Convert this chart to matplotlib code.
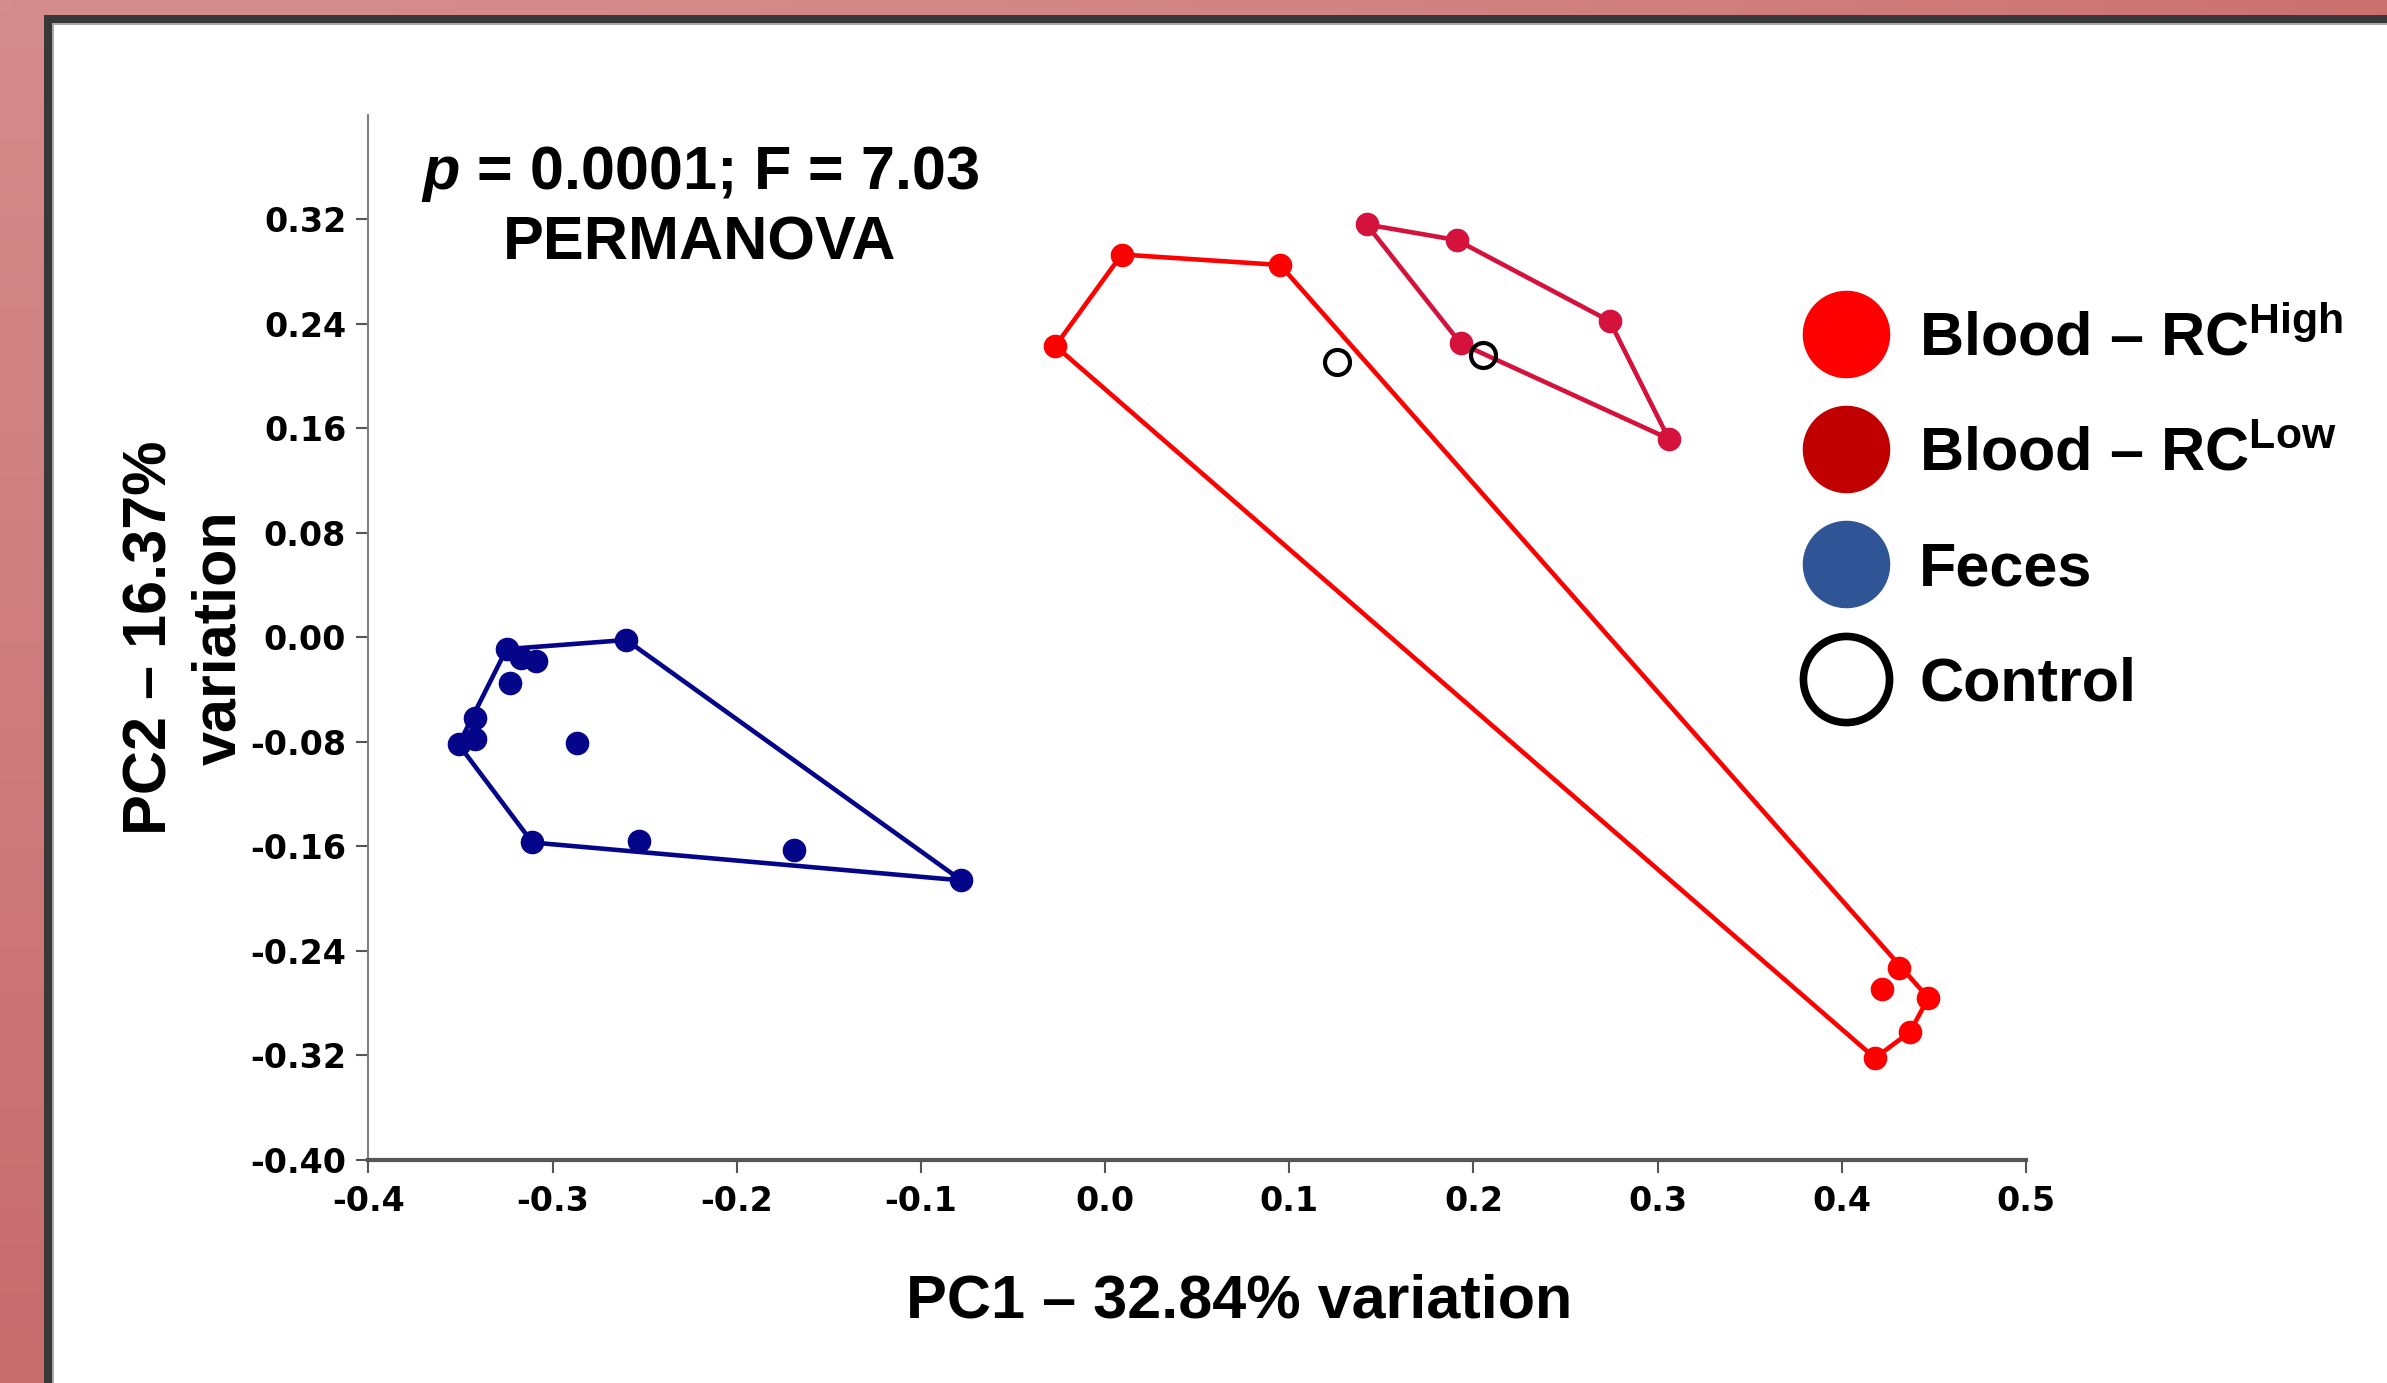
import numpy as np
import matplotlib.pyplot as plt
from matplotlib.lines import Line2D
from matplotlib.patches import Rectangle

plt.rcParams['font.family'] = ['Liberation Sans', 'DejaVu Sans']
plt.rcParams['font.weight'] = 'bold'
plt.rcParams['mathtext.fontset'] = 'custom'
plt.rcParams['mathtext.rm'] = 'Liberation Sans:bold'
plt.rcParams['mathtext.it'] = 'Liberation Sans:bold:italic'
plt.rcParams['mathtext.bf'] = 'Liberation Sans:bold'

# PCoA scores (PC1, PC2)
high_x = [-0.027, 0.009, 0.095, 0.431, 0.447, 0.437, 0.418, 0.422]
high_y = [0.223, 0.293, 0.285, -0.253, -0.276, -0.302, -0.322, -0.269]
low_x = [0.142, 0.191, 0.274, 0.306, 0.193]
low_y = [0.316, 0.304, 0.242, 0.152, 0.225]
feces_x = [-0.325, -0.317, -0.309, -0.323, -0.342, -0.342, -0.351, -0.287,
           -0.260, -0.311, -0.253, -0.169, -0.078]
feces_y = [-0.009, -0.016, -0.018, -0.035, -0.062, -0.078, -0.082, -0.081,
           -0.002, -0.157, -0.156, -0.163, -0.186]
control_x = [0.126, 0.205]
control_y = [0.211, 0.216]

x_ticks = [-0.4, -0.3, -0.2, -0.1, 0.0, 0.1, 0.2, 0.3, 0.4, 0.5]
y_ticks = [-0.40, -0.32, -0.24, -0.16, -0.08, 0.00, 0.08, 0.16, 0.24, 0.32]

legend_labels = ['Blood – RC$^{\\mathrm{High}}$', 'Blood – RC$^{\\mathrm{Low}}$',
                 'Feces', 'Control']
stats_text = '$\\mathit{p}$ = 0.0001; F = 7.03\nPERMANOVA'


def hull(xs, ys):
    # monotone chain convex hull, returned as a closed ring
    pts = sorted(zip(xs, ys))

    def half(points):
        out = []
        for p in points:
            while len(out) >= 2 and ((out[-1][0] - out[-2][0]) * (p[1] - out[-2][1])
                                     - (out[-1][1] - out[-2][1]) * (p[0] - out[-2][0])) <= 0:
                out.pop()
            out.append(p)
        return out

    ring = half(pts)[:-1] + half(pts[::-1])[:-1]
    ring.append(ring[0])
    return [p[0] for p in ring], [p[1] for p in ring]


W, H = 2387, 1383
fig = plt.figure(figsize=(W / 100, H / 100), dpi=100)

# pink slide background with a dark frame
bg = fig.add_axes([0, 0, 1, 1], zorder=-10)
gx, gy = np.meshgrid(np.linspace(0, 1, 240), np.linspace(0, 1, 140))
gx = (gx ** 2)[..., None]
gy = gy[..., None]
tl = np.array([213, 140, 140])
tr = np.array([204, 112, 112])
bl = np.array([200, 108, 110])
br = np.array([195, 100, 102])
img = (tl * (1 - gx) * (1 - gy) + tr * gx * (1 - gy) + bl * (1 - gx) * gy + br * gx * gy) / 255
bg.imshow(img, aspect='auto', extent=[0, 1, 0, 1])
bg.axis('off')
fig.add_artist(Rectangle((44 / W, -0.1), 1.2, 1.1 - 15 / H, transform=fig.transFigure,
                         facecolor='#383838', edgecolor='none', zorder=-5))
fig.add_artist(Rectangle((52 / W, -0.1), 1.2, 1.1 - 23 / H, transform=fig.transFigure,
                         facecolor='#a8a8a8', edgecolor='none', zorder=-4))
fig.add_artist(Rectangle((54 / W, -0.1), 1.2, 1.1 - 25 / H, transform=fig.transFigure,
                         facecolor='white', edgecolor='none', zorder=-3))

ax = fig.add_axes([368.4 / W, (H - 1160) / H, 1657.6 / W, 1045.3 / H])
ax.patch.set_alpha(0)

hx, hy = hull(high_x, high_y)
ax.plot(hx, hy, color='#ff0000', lw=3.3, zorder=2)
ax.plot(high_x, high_y, 'o', color='#ff0000', ms=16, zorder=3)

lx, ly = hull(low_x, low_y)
ax.plot(lx, ly, color='#d4123c', lw=3.3, zorder=2)
ax.plot(low_x, low_y, 'o', color='#d4123c', ms=16, zorder=3)

fx, fy = hull(feces_x, feces_y)
ax.plot(fx, fy, color='#05058a', lw=3.3, zorder=2)
ax.plot(feces_x, feces_y, 'o', color='#05058a', ms=16, zorder=3)

ax.plot(control_x, control_y, 'o', mfc='none', mec='black', mew=3, ms=18, zorder=4)

ax.set_xlim(-0.4, 0.5)
ax.set_ylim(-0.40, 0.40)
ax.spines['top'].set_visible(False)
ax.spines['right'].set_visible(False)
ax.spines['left'].set_color('#7f7f7f')
ax.spines['left'].set_linewidth(1.5)
ax.spines['bottom'].set_color('#555555')
ax.spines['bottom'].set_linewidth(3)

ax.set_xticks(x_ticks, labels=[f'{v:.1f}' for v in x_ticks],
              fontfamily='DejaVu Sans', fontweight='bold', fontsize=24)
ax.set_yticks(y_ticks, labels=[f'{v:.2f}' for v in y_ticks],
              fontfamily='DejaVu Sans', fontweight='bold', fontsize=24)
ax.tick_params(axis='both', direction='out', length=9, width=1.5, color='#555555')
ax.tick_params(axis='x', pad=9)
ax.tick_params(axis='y', pad=7)

ax.set_xlabel('PC1 – 32.84% variation', fontsize=44, fontweight='bold')
ax.xaxis.set_label_coords((1239 - 368.4) / 1657.6, (1160 - 1318) / 1045.3)
ax.xaxis.label.set_verticalalignment('baseline')

ax.set_ylabel('PC2 – 16.37%\nvariation', fontsize=44, fontweight='bold', linespacing=1.27)
ax.yaxis.set_label_coords((185 - 368.4) / 1657.6, 0.5)
ax.yaxis.label.set_verticalalignment('center')

ax.text((700 - 368.4) / 1657.6, (1160 - 260) / 1045.3, stats_text, transform=ax.transAxes,
        ha='center', va='baseline', fontsize=44, fontweight='bold', linespacing=1.27)

handles = [
    Line2D([], [], ls='none', marker='o', ms=62, mfc='#ff0000', mec='#ff0000'),
    Line2D([], [], ls='none', marker='o', ms=62, mfc='#c00000', mec='#c00000'),
    Line2D([], [], ls='none', marker='o', ms=62, mfc='#2f5597', mec='#2f5597'),
    Line2D([], [], ls='none', marker='o', ms=62, mfc='none', mec='black', mew=5.5),
]
fig.legend(handles, legend_labels, loc='upper left', bbox_to_anchor=(1809 / W, 1 - 311 / H),
           frameon=False, fontsize=44, handlelength=1.2, handletextpad=0.6,
           labelspacing=0.95, borderpad=0, borderaxespad=0)

fig.savefig('out.png', dpi=100)
